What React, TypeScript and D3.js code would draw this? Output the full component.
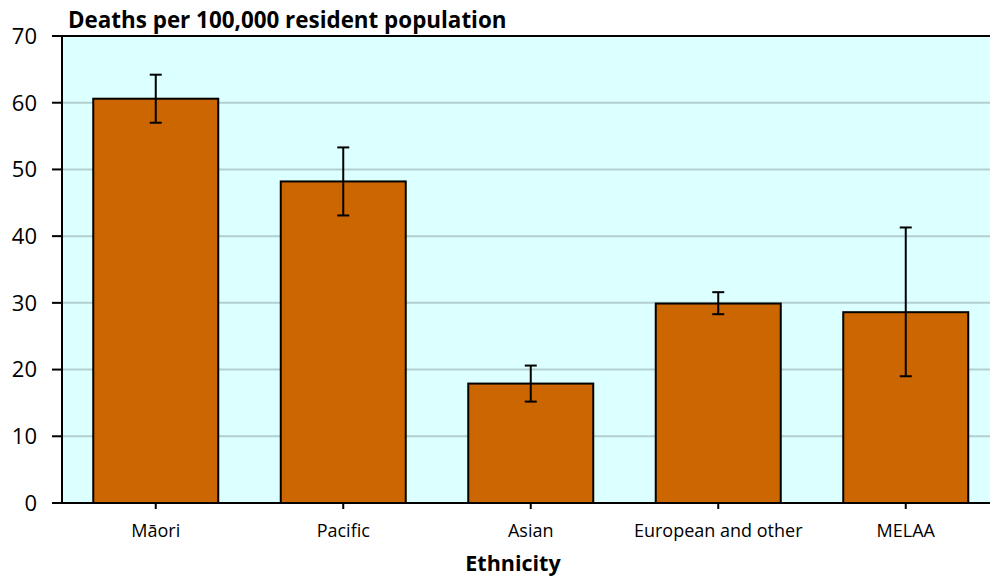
import React from "react";
import * as d3 from "d3";

const categories = ["Māori", "Pacific", "Asian", "European and other", "MELAA"];
const rates = [60.6, 48.2, 17.9, 29.9, 28.6];
const lowerCI = [57.0, 43.1, 15.2, 28.3, 19.0];
const upperCI = [64.2, 53.3, 20.6, 31.6, 41.3];
const yTicks = [0, 10, 20, 30, 40, 50, 60, 70];

const W = 990;
const H = 576;
const margin = { top: 36, left: 62, bottom: 503 };
const plotRight = 999.5; // plot area runs past the picture edge

const App: React.FC = () => {
  const x = d3
    .scaleBand<string>()
    .domain(categories)
    .range([margin.left, plotRight])
    .paddingInner(1 / 3)
    .paddingOuter(1 / 6);

  const y = d3.scaleLinear().domain([0, 70]).range([margin.bottom, margin.top]);

  const font = "Open Sans, Noto Sans, sans-serif";

  return (
    <svg
      width={W}
      height={H}
      style={{ position: "absolute", left: 0, top: 0, display: "block" }}
    >
      <rect width={W} height={H} fill="#ffffff" />
      {/* plot background */}
      <rect
        x={margin.left}
        y={margin.top}
        width={plotRight - margin.left}
        height={margin.bottom - margin.top}
        fill="#dcffff"
      />
      {/* gridlines */}
      {yTicks.slice(1, -1).map((t) => (
        <line
          key={t}
          x1={margin.left}
          x2={plotRight}
          y1={y(t)}
          y2={y(t)}
          stroke="#b3cfcf"
          strokeWidth={2}
        />
      ))}
      {/* top border */}
      <line x1={margin.left - 10} x2={plotRight} y1={y(70)} y2={y(70)} stroke="#000" strokeWidth={2} />

      {/* bars */}
      {categories.map((c, i) => (
        <rect
          key={c}
          x={x(c)}
          y={y(rates[i])}
          width={x.bandwidth()}
          height={y(0) - y(rates[i])}
          fill="#cc6600"
          stroke="#000"
          strokeWidth={2}
        />
      ))}

      {/* error bars */}
      {categories.map((c, i) => {
        const cx = (x(c) ?? 0) + x.bandwidth() / 2;
        return (
          <g key={c} stroke="#000" strokeWidth={2}>
            <line x1={cx} x2={cx} y1={y(upperCI[i])} y2={y(lowerCI[i])} />
            <line x1={cx - 6} x2={cx + 6} y1={y(upperCI[i])} y2={y(upperCI[i])} />
            <line x1={cx - 6} x2={cx + 6} y1={y(lowerCI[i])} y2={y(lowerCI[i])} />
          </g>
        );
      })}

      {/* y axis */}
      <line x1={margin.left} x2={margin.left} y1={margin.top} y2={margin.bottom} stroke="#000" strokeWidth={2} />
      {yTicks.map((t) => (
        <g key={t}>
          <line x1={margin.left - 10} x2={margin.left} y1={y(t)} y2={y(t)} stroke="#000" strokeWidth={2} />
          <text
            x={37}
            y={y(t)}
            dy="0.36em"
            textAnchor="end"
            fontFamily={font}
            fontSize={22}
            fill="#000"
          >
            {t}
          </text>
        </g>
      ))}

      {/* x axis */}
      <line x1={margin.left} x2={plotRight} y1={margin.bottom} y2={margin.bottom} stroke="#000" strokeWidth={2} />
      {categories.map((c) => {
        const cx = (x(c) ?? 0) + x.bandwidth() / 2;
        return (
          <g key={c}>
            <line x1={cx} x2={cx} y1={margin.bottom} y2={margin.bottom + 6} stroke="#000" strokeWidth={2} />
            <text x={cx} y={537} textAnchor="middle" fontFamily={font} fontSize={18} fill="#000">
              {c}
            </text>
          </g>
        );
      })}

      {/* titles */}
      <text x={68} y={28} fontFamily={font} fontSize={22.4} fontWeight="bold" fill="#000">
        Deaths per 100,000 resident population
      </text>
      <text x={513} y={571} textAnchor="middle" fontFamily={font} fontSize={21.5} fontWeight="bold" fill="#000">
        Ethnicity
      </text>
    </svg>
  );
};

export default App;
